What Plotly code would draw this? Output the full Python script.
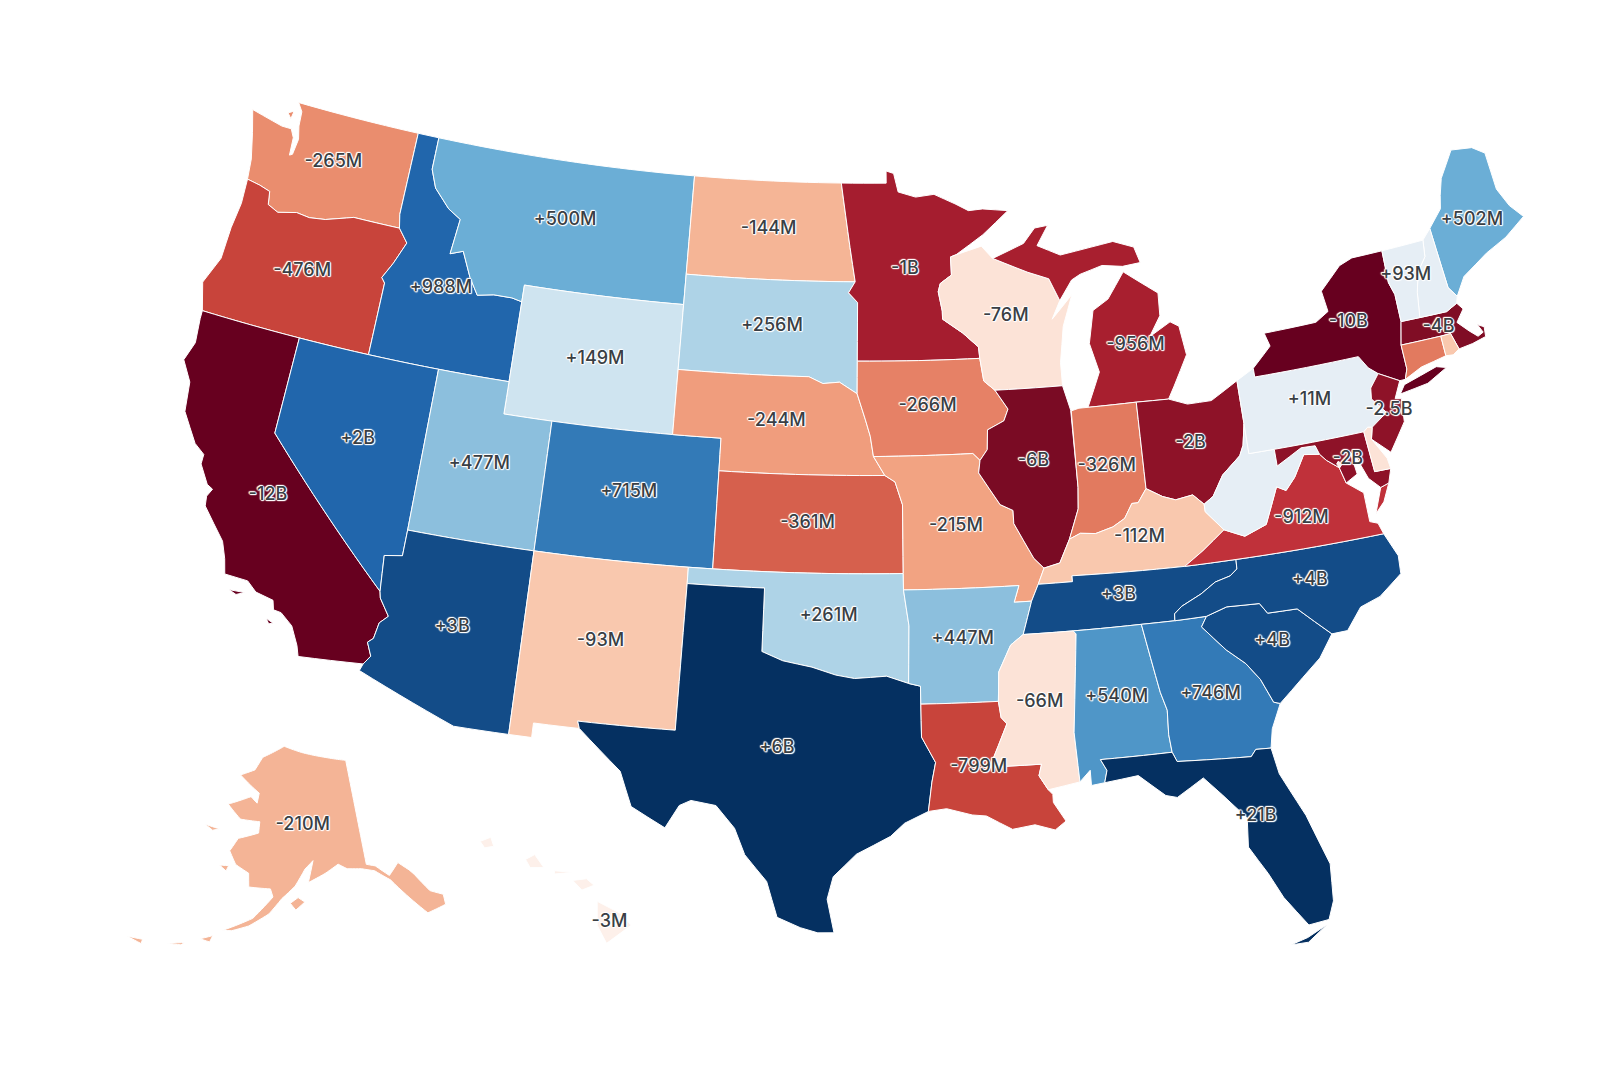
import math
import plotly.graph_objects as go

states = ["WA","OR","CA","ID","NV","MT","WY","UT","AZ","CO","NM","ND","SD","NE","KS","OK","TX","MN","IA","MO","AR","LA","WI","IL","MI","IN","OH","KY","TN","MS","AL","GA","FL","SC","NC","VA","WV","PA","NY","MD","NJ","MA","ME","NH","VT","CT","RI","DE","DC","AK","HI"]
values = [-265,-476,-12000,988,2000,500,149,477,3000,715,-93,-144,256,-244,-361,261,6000,-1000,-266,-215,447,-799,-76,-6000,-956,-326,-2000,-112,3000,-66,540,746,21000,4000,4000,-912,40,11,-10000,-2000,-2500,-4000,502,93,60,-330,-100,-70,-60,-210,-3]
labels = ["-265M","-476M","-12B","+988M","+2B","+500M","+149M","+477M","+3B","+715M","-93M","-144M","+256M","-244M","-361M","+261M","+6B","-1B","-266M","-215M","+447M","-799M","-76M","-6B","-956M","-326M","-2B","-112M","+3B","-66M","+540M","+746M","+21B","+4B","+4B","-912M","","+11M","-10B","-2B","-2.5B","-4B","+502M","","+93M","","","","","-210M","-3M"]
label_lon = [-120.5,-120.6,-119.65,-114.6,-116.7,-109.7,-107.6,-111.7,-111.7,-105.6,-106.1,-100.5,-100.15,-99.8,-98.4,-97.5,-99.3,-94.35,-93.5,-92.5,-92.4,-92,-90,-89.25,-84.55,-86.3,-82.8,-85.3,-86.35,-89.65,-86.8,-83.35,-82.35,-80.8,-79,-78.9,-80.7,-77.7,-75.45,-76.65,-74.6,-71.8,-69.2,-71.5,-72.6,-72.7,-71.5,-75.5,-77,-152.2,-155.5]
label_lat = [47.5,44,37.1,44.45,39.4,47.15,43.05,39.35,34.3,39.1,34.5,47.5,44.5,41.6,38.5,35.7,31.6,46.3,42.1,38.4,34.95,31,44.75,40.25,43.5,39.9,40.3,37.65,35.95,32.9,32.85,32.6,28.7,33.95,35.6,37.5,38.6,41,43.1,39,40.2,42.3,45.2,43.6,44.1,41.6,41.7,39,38.9,64.3,19.6]

thresholds = [-10000,-6000,-4000,-2000,-1000,-950,-900,-476,-361,-326,-266,-265,-244,-215,-210,-144,-93,-66,-3,100,149,261,477,502,540,746,2000,4000,21000]
palette = ["#67001f","#7a0b24","#800d25","#8e1228","#a51d2f","#a81f2f","#c0313a","#c8443b","#d6604d","#e27a5f","#e68166","#ea8d6e","#f09d7d","#f2a382","#f4b496","#f5b596","#f9c8ae","#fce3d7","#fdf0ea","#e6eef5","#cfe4f0","#aed3e7","#8cbfdd","#6baed6","#4f96c8","#337ab7","#2166ac","#134c88","#053061"]

COL = [(-124.0,46.27),(-123.4,46.2),(-122.9,46.1),(-122.8,45.7),(-122.3,45.55),(-121.5,45.7),(-120.9,45.65),(-120.2,45.72),(-119.3,45.93),(-119.0,46.0),(-116.92,46.0)]
SNAKE = [(-116.92,46.0),(-116.46,45.6),(-116.85,44.9),(-117.2,44.4),(-117.03,44.25),(-117.03,42.0)]
CORIV = [(-114.63,35.0),(-114.57,34.8),(-114.14,34.3),(-114.43,34.05),(-114.53,33.55),(-114.72,33.4),(-114.5,33.0),(-114.72,32.72)]
IDMT = [(-116.05,49.0),(-116.05,48.0),(-115.72,47.45),(-114.95,46.9),(-114.35,46.65),(-114.5,45.55),(-113.95,45.7),(-113.45,44.95),(-113.0,44.45),(-112.3,44.55),(-111.5,44.55),(-111.05,44.48)]
RED = [(-100,34.56),(-99.2,34.3),(-98.1,34.13),(-97.2,33.9),(-96.5,33.8),(-95.3,33.87),(-94.48,33.64)]
SABINE = [(-94.04,31.99),(-93.55,31.2),(-93.7,30.6),(-93.75,30.3),(-93.85,29.7)]
MOR = [(-98.5,43),(-97.9,42.8),(-97.2,42.85),(-96.45,42.5),(-96.1,41.7),(-95.9,41.2),(-95.77,40.58),(-95.31,40)]
MISS_UP = [(-92.75,44.75),(-91.9,44.3),(-91.25,43.85),(-91.22,43.5),(-91.1,42.8),(-90.65,42.5),(-90.15,41.9),(-90.35,41.55),(-91.05,41.3),(-91.1,40.7),(-91.42,40.38)]
MISS_MID = [(-91.42,40.38),(-91.5,40),(-90.7,39),(-90.2,38.8),(-90.2,38.4),(-89.5,37.3),(-89.13,36.98)]
MISS_LOW = [(-89.7,36),(-90.1,35),(-90.6,34.7),(-91.1,33.9),(-91.17,33)]
OHIO_W = [(-84.82,39.1),(-85.2,38.7),(-85.45,38.7),(-85.8,38.27),(-86.3,38.05),(-87,37.9),(-87.6,37.95),(-88.05,37.8)]
OHIO_E = [(-82.6,38.4),(-83,38.73),(-83.7,38.65),(-84.2,38.8),(-84.82,39.1)]
OHIO_U = [(-80.52,40.64),(-80.7,40),(-80.9,39.7),(-81.7,39.2),(-82.2,38.6),(-82.6,38.4)]
SAV = [(-83.11,35),(-83.35,34.7),(-82.55,33.9),(-81.9,33.4),(-81.45,32.85),(-81.1,32.1),(-80.87,32.03)]
TNNC = [(-84.32,34.99),(-84.3,35.2),(-84,35.4),(-83.2,35.7),(-82.6,36),(-82,36.12),(-81.7,36.3),(-81.68,36.59)]
NCSC = [(-83.11,35),(-82.3,35.2),(-81.05,35.15),(-80.8,34.82),(-79.67,34.8),(-78.55,33.86)]
WVVA = [(-77.72,39.32),(-78.35,39.4),(-78.87,38.77),(-79.3,38.42),(-79.65,38.58),(-80.3,37.5),(-81.2,37.25),(-81.97,37.54)]
KYVA = [(-83.68,36.6),(-82.9,37),(-81.97,37.54)]
POT = [(-76.9,38.3),(-77.05,38.8),(-77.5,39.1),(-77.72,39.32)]
DEL = [(-75.42,39.8),(-74.72,40.15),(-75.2,40.65),(-75.13,40.98),(-74.7,41.36)]
CTRV = [(-72.46,42.73),(-72.3,43.5),(-72.05,44.1),(-71.6,44.5),(-71.5,45.01)]

def r(p):
    return list(reversed(p))

shapes = {
"WA":[[(-124.7,48.38),(-124.4,47.7),(-124.1,46.9)]+COL+[(-117.04,46.42),(-117.03,49),(-122.76,49),(-122.5,48.75),(-122.45,48.3),(-122.3,47.9),(-122.38,47.4),(-122.5,47.35),(-122.55,47.9),(-122.75,48.15),(-123.2,48.15)],
      [(-123.1,48.6),(-122.85,48.7),(-122.9,48.45)]],
"OR":[COL+SNAKE+[(-124.21,42),(-124.55,42.84),(-124.1,43.7),(-124.07,44.7),(-123.95,45.5)]],
"CA":[[(-124.21,42),(-120,42),(-120,39)]+CORIV+[(-117.12,32.53),(-117.25,32.85),(-117.6,33.4),(-118.1,33.72),(-118.4,33.75),(-118.5,34.03),(-119.2,34.15),(-119.6,34.42),(-120.5,34.45),(-120.65,34.9),(-120.9,35.4),(-121.9,36.3),(-121.95,36.6),(-121.8,36.85),(-122.05,36.95),(-122.5,37.5),(-122.5,37.8),(-122.95,38.05),(-123.7,38.9),(-123.85,39.8),(-124.35,40.4),(-124.1,41),(-124.2,41.75)],
      [(-118.6,33.45),(-118.3,33.35),(-118.45,33.3)],[(-120.2,34.02),(-119.6,34.05),(-119.9,33.93)]],
"NV":[[(-120,42),(-117.03,42),(-114.04,42),(-114.04,37),(-114.05,36.2),(-114.74,36.1),(-114.63,35),(-120,39)]],
"ID":[[(-117.03,49)]+IDMT+[(-111.05,42),(-117.03,42)]+r(SNAKE)[1:]+[(-117.04,46.42)]],
"MT":[[(-116.05,49),(-104.05,49),(-104.05,45.94),(-104.05,45),(-111.05,45)]+r(IDMT)],
"WY":[[(-111.05,45),(-104.05,45),(-104.05,43),(-104.05,41),(-109.05,41),(-111.05,41),(-111.05,42)]],
"UT":[[(-114.04,42),(-111.05,42),(-111.05,41),(-109.05,41),(-109.05,37),(-114.04,37)]],
"CO":[[(-109.05,41),(-104.05,41),(-102.05,41),(-102.05,40),(-102.05,37),(-103,37),(-109.05,37)]],
"AZ":[[(-114.04,37),(-109.05,37),(-109.05,31.33),(-111.07,31.33),(-114.81,32.5)]+r(CORIV)+[(-114.74,36.1),(-114.05,36.2)]],
"NM":[[(-109.05,37),(-103,37),(-103,36.5),(-103.04,32),(-106.62,32),(-106.53,31.78),(-108.21,31.78),(-108.21,31.33),(-109.05,31.33)]],
"TX":[[(-103,36.5),(-100,36.5)]+RED+[(-94.04,33.55),(-94.04,33)]+SABINE+[(-94.7,29.35),(-95.2,28.95),(-96.4,28.4),(-97.2,27.7),(-97.4,27),(-97.15,25.96),(-97.7,25.95),(-98.3,26.1),(-99.1,26.4),(-99.5,27.5),(-100.3,28.3),(-100.7,29.1),(-101.4,29.77),(-102.3,29.88),(-102.7,29.7),(-103.15,28.98),(-104.4,29.55),(-104.9,30.6),(-106.53,31.78),(-106.62,32),(-103.04,32)]],
"OK":[[(-103,37),(-102.05,37),(-94.62,37),(-94.62,36.5),(-94.43,35.4)]+r(RED)+[(-100,36.5),(-103,36.5)]],
"KS":[[(-102.05,40),(-95.31,40),(-94.9,39.8),(-94.61,39.1),(-94.62,37),(-102.05,37)]],
"NE":[[(-104.05,43)]+MOR+[(-102.05,40),(-102.05,41),(-104.05,41)]],
"SD":[[(-104.05,45.94),(-96.56,45.94),(-96.85,45.6),(-96.45,45.3),(-96.45,43.5),(-96.45,42.5),(-97.2,42.85),(-97.9,42.8),(-98.5,43),(-104.05,43)]],
"ND":[[(-104.05,49),(-97.23,49),(-96.8,47),(-96.56,45.94),(-104.05,45.94)]],
"MN":[[(-97.23,49),(-95.15,49),(-95.15,49.38),(-94.8,49.3),(-94.6,48.72),(-93.8,48.55),(-92.95,48.62),(-92,48.3),(-91.4,48.07),(-90.75,48.1),(-89.6,48),(-90.8,47.3),(-92.05,46.72),(-92.3,46.66),(-92.29,46.1),(-92.8,45.85),(-92.9,45.6),(-92.75,45)]+MISS_UP[:4]+[(-96.45,43.5),(-96.45,45.3),(-96.85,45.6),(-96.56,45.94),(-96.8,47)]],
"IA":[[(-96.45,43.5)]+MISS_UP[3:]+[(-91.7,40.6),(-95.77,40.58),(-95.9,41.2),(-96.1,41.7),(-96.45,42.5)]],
"MO":[[(-95.77,40.58),(-91.7,40.6)]+MISS_MID+[(-89.4,36.5),(-89.7,36),(-90.37,36),(-90.15,36.5),(-94.62,36.5),(-94.62,37),(-94.61,39.1),(-94.9,39.8),(-95.31,40)]],
"AR":[[(-94.62,36.5),(-90.15,36.5),(-90.37,36),(-89.7,36)]+MISS_LOW[1:]+[(-94.04,33),(-94.04,33.55),(-94.48,33.64),(-94.43,35.4)]],
"LA":[[(-94.04,33),(-91.17,33),(-91.1,32.5),(-90.9,32.3),(-91.6,31),(-89.73,31),(-89.85,30.65),(-89.55,30.2),(-89.4,30.05),(-89.4,29.8),(-89,29.2),(-89.4,28.95),(-90.1,29.15),(-90.9,29.05),(-91.8,29.5),(-92.3,29.55),(-93.2,29.77)]+r(SABINE)],
"MS":[MISS_LOW[1:2]+[(-88.2,35),(-88.1,34.9),(-88.47,31.9),(-88.4,30.37),(-89.55,30.2),(-89.85,30.65),(-89.73,31),(-91.6,31),(-90.9,32.3),(-91.1,32.5),(-91.17,33),(-91.1,33.9),(-90.6,34.7)]],
"AL":[[(-88.2,35),(-85.6,35),(-85.18,32.87),(-85,32.3),(-85.05,31.55),(-85,31),(-87.6,31),(-87.4,30.65),(-87.52,30.28),(-88,30.23),(-88,30.7),(-88.4,30.37),(-88.47,31.9),(-88.1,34.9)]],
"GA":[[(-85.6,35),(-84.32,34.99)]+SAV+[(-81.3,31.3),(-81.45,30.72),(-82,30.75),(-82.2,30.55),(-84.86,30.7),(-85,31),(-85.05,31.55),(-85,32.3),(-85.18,32.87)]],
"FL":[[(-87.6,31),(-85,31),(-84.86,30.7),(-82.2,30.55),(-82,30.75),(-81.45,30.72),(-81.3,29.9),(-80.6,28.5),(-80.05,26.9),(-80.15,25.75),(-80.4,25.2),(-81.1,25.13),(-81.8,26.1),(-82.2,26.9),(-82.75,27.8),(-82.65,28.7),(-83.4,29.5),(-84,30.1),(-85,29.6),(-85.4,29.7),(-86.3,30.4),(-87.52,30.28),(-87.4,30.65)],
      [(-81.8,24.6),(-81.2,24.75),(-80.5,25.05),(-81.2,24.6)]],
"SC":[NCSC+[(-79.15,33.2),(-79.9,32.7)]+r(SAV)[:-1]],
"NC":[[(-84.32,34.99)]+NCSC+[(-77.95,33.87),(-77.3,34.5),(-76.5,34.7),(-75.55,35.25),(-75.5,35.8),(-75.87,36.55)]+r(TNNC)[:-1]],
"TN":[[(-90.1,35),(-88.2,35),(-85.6,35)]+TNNC+[(-83.68,36.6),(-88.07,36.68),(-88.07,36.5),(-89.4,36.5),(-89.7,36)]],
"KY":[[(-89.4,36.5),(-88.07,36.5),(-88.07,36.68)]+KYVA+[(-82.6,38.17)]+OHIO_E+OHIO_W[1:]+[(-88.5,37.1),(-89.13,36.98)]],
"IL":[[(-87.8,42.49),(-87.55,41.72),(-87.53,39.35),(-87.6,38.7),(-88.05,37.8),(-88.5,37.1)]+r(MISS_MID)+MISS_UP[:4:-1]+[(-90.65,42.5)]],
"IN":[[(-87.53,41.7),(-87.2,41.76),(-86.82,41.76),(-84.8,41.76)]+OHIO_W+[(-87.6,38.7),(-87.53,39.35)]],
"OH":[[(-84.8,41.76),(-83.45,41.73),(-82.7,41.5),(-81.7,41.5),(-80.52,41.98)]+OHIO_U+OHIO_E[1:]],
"MI":[[(-86.82,41.76),(-84.8,41.76),(-83.45,41.73),(-83.15,42.1),(-82.45,43),(-82.6,43.9),(-82.95,44.07),(-83.9,43.7),(-83.35,44.3),(-83.3,45),(-84.7,45.78),(-85.5,45),(-86.2,44.7),(-86.5,43.7),(-86.2,42.8)],
      [(-90.42,46.55),(-89,46.95),(-88.45,47.4),(-87.85,47.45),(-88.4,46.85),(-87.4,46.5),(-86,46.65),(-85,46.75),(-84.1,46.5),(-83.9,46),(-84.7,45.95),(-85.6,46.05),(-86.6,45.85),(-87,45.7),(-87.6,45.1),(-88,45.8),(-88.9,46.05)]],
"WI":[[(-92.05,46.72),(-90.9,46.95),(-90.42,46.55),(-88.9,46.05),(-88,45.8),(-87.6,45.1),(-88,44.55),(-87.05,45.25),(-87.55,44.3),(-87.8,43.2),(-87.8,42.49),(-90.65,42.5),(-91.1,42.8),(-91.22,43.5),(-91.25,43.85),(-91.9,44.3),(-92.75,44.75),(-92.75,45),(-92.9,45.6),(-92.8,45.85),(-92.29,46.1),(-92.3,46.66)]],
"WV":[OHIO_U[::-1]+[(-80.52,39.72),(-79.48,39.72),(-79.48,39.2),(-78.4,39.62),(-77.83,39.6)]+WVVA+[(-82.6,38.17)]],
"VA":[[(-83.68,36.6),(-81.68,36.59),(-75.87,36.55),(-76,36.9),(-76.3,37),(-76.3,37.9)]+POT+WVVA[1:]+[(-82.9,37)],[(-75.25,38.03),(-75.6,37.95),(-76,37.2),(-75.6,37.5)]],
"MD":[[(-79.48,39.72),(-75.79,39.72),(-75.7,38.46),(-75.05,38.45),(-75.25,38.03),(-75.6,37.95),(-76,38.3),(-76.3,39),(-76.5,39.2),(-76.4,38.5)]+POT+[(-77.83,39.6),(-78.4,39.62),(-79.48,39.2)]],
"DE":[[(-75.79,39.72),(-75.6,39.83),(-75.42,39.8),(-75.55,39.45),(-75.1,38.78),(-75.05,38.45),(-75.7,38.46)]],
"DC":[[(-77.12,38.93),(-77.04,39),(-76.91,38.89),(-77.04,38.79)]],
"PA":[[(-80.52,41.98),(-79.76,42.27),(-79.76,42),(-75.35,42),(-75.05,41.6)]+r(DEL)+[(-75.6,39.83),(-75.79,39.72),(-79.48,39.72),(-80.52,39.72),(-80.52,40.64)]],
"NJ":[[(-74.7,41.36),(-73.9,41),(-74.25,40.5),(-74,40.45),(-74.1,39.75),(-74.9,38.93),(-75.55,39.45)]+DEL[:-1]],
"NY":[[(-79.76,42.27),(-78.9,42.85),(-79.05,43.27),(-76.8,43.3),(-76.2,43.55),(-76.3,44.2),(-75.3,44.85),(-74.7,45),(-73.35,45),(-73.4,44),(-73.25,43.6),(-73.27,42.75),(-73.5,42.05),(-73.5,41.3),(-73.66,41),(-73.9,41),(-74.7,41.36),(-75.05,41.6),(-75.35,42),(-79.76,42)],
      [(-74,40.6),(-73.75,40.85),(-72.3,41.15),(-71.9,41.05),(-72.8,40.72)]],
"CT":[[(-73.5,42.05),(-71.8,42.02),(-71.8,41.4),(-72.9,41.25),(-73.66,41),(-73.5,41.3)]],
"RI":[[(-71.8,42.02),(-71.38,42.02),(-71.2,41.5),(-71.5,41.37),(-71.8,41.4)]],
"MA":[[(-73.5,42.05),(-73.27,42.75),(-72.46,42.73),(-71.3,42.7),(-70.8,42.87),(-70.6,42.65),(-71,42.3),(-70.6,41.95),(-70.3,41.72),(-70.05,41.8),(-70.2,42.07),(-69.95,41.95),(-70,41.65),(-70.6,41.55),(-71.2,41.5),(-71.38,42.02),(-71.8,42.02)]],
"VT":[[(-73.35,45)]+r(CTRV)+[(-73.27,42.75),(-73.25,43.6),(-73.4,44)]],
"NH":[[(-71.5,45.01),(-71.08,45.3),(-70.98,43.4),(-70.7,43.07),(-70.8,42.87),(-71.3,42.7)]+CTRV[:-1]],
"ME":[[(-71.08,45.3),(-70.4,45.8),(-70.25,46.2),(-70,46.7),(-69.23,47.46),(-68.3,47.35),(-67.8,47.07),(-67.78,45.9),(-67.45,45.3),(-67,44.85),(-68,44.4),(-69,44.1),(-70.2,43.6),(-70.7,43.07),(-70.98,43.4)]],
"AK":[[(-141,69.65),(-141,60.3),(-139.5,60),(-137.5,58.9),(-135.5,59.8),(-134,58.9),(-133.4,58.4),(-131.8,56.6),(-130,55.9),(-130.2,55),(-133.2,54.8),(-136,57.2),(-137.5,58.5),(-139.8,59.6),(-142,60),(-144.5,60.2),(-146,60.7),(-148.5,60),(-151.5,59.3),(-150.5,61.2),(-152,60.5),(-153.8,59),(-156,57.9),(-158,56.5),(-161,55.3),(-163.5,54.7),(-164.9,54.6),(-163,55.2),(-160.5,56),(-157.5,58),(-158,58.7),(-161.7,58.7),(-162,59.9),(-164.5,60.5),(-166,61.6),(-164.8,62.8),(-161,63.5),(-161,64.5),(-165,64.5),(-168.1,65.6),(-164,66.5),(-163.5,66.6),(-162,66.1),(-161.8,67),(-164,67.6),(-166.7,68.35),(-163.5,69),(-162,70.2),(-156.6,71.35),(-152,70.8),(-146,70.2)],
      [(-154.6,57.5),(-153.3,58),(-152.2,57.6),(-153.7,56.9)],[(-168,53.5),(-166.2,54),(-166.5,53.4)],[(-172.5,52.4),(-170,52.9),(-170.5,52.6)],[(-178.2,51.9),(-176,52.1),(-176,51.7)],
      [(-171.7,63.4),(-168.7,63.3),(-170,63.05)],[(-167.3,60.2),(-165.7,60.3),(-166,59.8)]],
"HI":[[(-155.9,20.25),(-155.1,19.85),(-154.8,19.5),(-155.6,18.95),(-155.9,19.5)],[(-156.7,20.9),(-156.25,20.95),(-156,20.75),(-156.4,20.6)],[(-158.25,21.55),(-157.95,21.7),(-157.65,21.3),(-158.1,21.3)],[(-159.75,22.1),(-159.4,22.23),(-159.3,21.95),(-159.6,21.9)],[(-157.3,21.2),(-156.7,21.15),(-157.3,21.1)]],
}

def densify(ring):
    out = []
    for i, a in enumerate(ring):
        b = ring[(i + 1) % len(ring)]
        n = max(1, int(math.hypot(b[0] - a[0], b[1] - a[1]) / 0.5))
        out += [(a[0] + (b[0] - a[0]) * k / n, a[1] + (b[1] - a[1]) * k / n) for k in range(n)]
    out.append(out[0])
    area = sum(p[0] * q[1] - q[0] * p[1] for p, q in zip(out, out[1:]))
    return out[::-1] if area > 0 else out

def colour_of(v):
    for t, c in zip(thresholds, palette):
        if v <= t:
            return c
    return palette[-1]

fig = go.Figure()
for s, v in zip(states, values):
    lon, lat = [], []
    for ring in shapes[s]:
        d = densify(ring)
        lon += [p[0] for p in d] + [None]
        lat += [p[1] for p in d] + [None]
    fig.add_trace(go.Scattergeo(lon=lon[:-1], lat=lat[:-1], mode="lines", fill="toself", fillcolor=colour_of(v),
        line=dict(color="white", width=1), name=s, hoverinfo="skip"))
halo = "0 0 1px #fff, 1px 0 1px #fff, -1px 0 1px #fff, 0 1px 1px #fff, 0 -1px 1px #fff, 1px 1px 1px #fff, -1px -1px 1px #fff"
fig.add_trace(go.Scattergeo(lon=label_lon, lat=label_lat, text=labels, mode="text",
    textfont=dict(family="Inter, sans-serif", size=18, color="#3a3f45", weight=500, shadow=halo), hoverinfo="skip"))
fig.update_geos(visible=False, bgcolor="white", projection_type="albers usa", projection_scale=1.12,
    showland=False, showlakes=False, showcountries=False, showcoastlines=False, showsubunits=False, showframe=False,
    domain=dict(x=[0.056, 1], y=[0.043, 1]))
fig.update_layout(width=1600, height=1066, margin=dict(l=0, r=0, t=0, b=0), paper_bgcolor="white", showlegend=False)
unclip = "document.querySelectorAll('g.geo, g.geo g').forEach(function(g){g.removeAttribute('clip-path');g.style.clipPath='none';});"
fig.write_html("out.html", post_script=unclip)
